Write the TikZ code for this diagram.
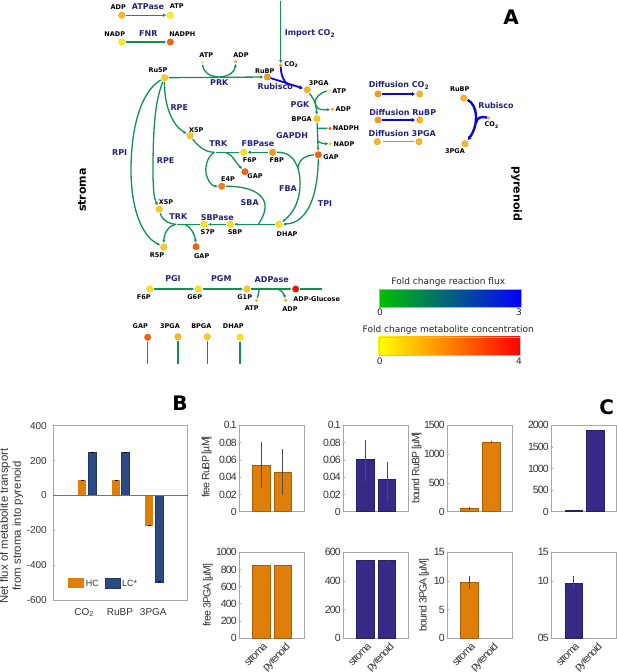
\documentclass[tikz,border=0pt]{standalone}
\usepackage{fontspec}
\usetikzlibrary{arrows.meta}
\setmainfont{DejaVu Sans}
\newfontfamily\plotfont[LetterSpace=-9]{Liberation Sans}
\newfontfamily\barfont{Liberation Sans}
\definecolor{fluxgreen}{HTML}{12904F}
\definecolor{fluxlight}{HTML}{55C060}
\definecolor{fluxblue}{HTML}{0808D8}
\definecolor{enzcol}{HTML}{23237C}
\definecolor{hccol}{HTML}{DF7F0A}
\definecolor{lcbar}{HTML}{2B4A82}
\definecolor{lccol}{HTML}{352A85}
\definecolor{axcol}{HTML}{A8A8A8}
\definecolor{tickcol}{HTML}{333333}
\definecolor{meta}{HTML}{FFEE20}
\definecolor{metb}{HTML}{FFDF20}
\definecolor{metc}{HTML}{FFC91F}
\definecolor{metd}{HTML}{FBB51F}
\definecolor{mete}{HTML}{F79A1A}
\definecolor{metf}{HTML}{F46010}
\definecolor{metg}{HTML}{F67E15}
\definecolor{meth}{HTML}{F01010}
\definecolor{metp}{HTML}{FFF080}
\tikzset{
  met/.style={circle, fill=#1, draw=#1!85!black, line width=.3pt, minimum size=6.5pt, inner sep=0pt},
  metsmall/.style={circle, fill=#1, draw=#1!85!black, line width=.2pt, minimum size=3pt, inner sep=0pt},
  metlbl/.style={font=\fontsize{6.5}{7}\selectfont\bfseries, text=black, inner sep=0pt},
  enzlbl/.style={font=\fontsize{8}{9}\selectfont\bfseries, text=enzcol, inner sep=0pt},
  biglbl/.style={font=\fontsize{11}{12}\selectfont\bfseries, inner sep=0pt},
  panellbl/.style={font=\fontsize{20}{22}\selectfont\bfseries, inner sep=0pt},
  cbarlbl/.style={font=\fontsize{9}{10}\selectfont, text=black!85, inner sep=0pt},
  flux/.style={draw=fluxgreen, line width=1.3pt, -{Latex[length=3.2pt,width=3.2pt]}, shorten >=.5pt, shorten <=1pt},
  fluxplain/.style={draw=fluxgreen, line width=1.3pt, shorten >=.5pt, shorten <=1pt},
  fluxb/.style={draw=fluxblue, line width=2pt, -{Latex[length=3.5pt,width=4.5pt]}, shorten >=1pt, shorten <=1pt},
  axisline/.style={draw=axcol, line width=.6pt},
  barhc/.style={fill=hccol, draw=hccol!75!black, line width=.4pt},
  barlc/.style={fill=lcbar, draw=lcbar!75!black, line width=.4pt},
  barlcc/.style={fill=lccol, draw=lccol!75!black, line width=.4pt},
  errbar/.style={draw=black!70, line width=.4pt},
  plotlbl/.style={font=\fontsize{10.5}{11}\selectfont\plotfont, text=tickcol, inner sep=0pt},
  barlbl/.style={font=\fontsize{10}{12}\selectfont\barfont, text=tickcol, inner sep=0pt},
}
\begin{document}
\begin{tikzpicture}[x=1pt, y=-1pt]
\useasboundingbox (0,0) rectangle (617,672);

\node[met=metd] (adpa) at (121.7,15.3) {};
\node[met=meta] (atpa) at (170.3,15.3) {};
\node[met=meta] (nadpa) at (121.7,42) {};
\node[met=metf] (nadpha) at (170.3,42) {};
\node[metsmall=mete] (co2a) at (280.7,65.3) {};
\node[met=metc] (ru5p) at (164.7,77.7) {};
\node[met=mete] (rubpa) at (267.3,77) {};
\node[met=metd] (pgaa) at (307.3,89.7) {};
\node[metsmall=metp] (atpb) at (202.3,62.3) {};
\node[metsmall=metd] (adpb) at (235.7,61.7) {};
\node[metsmall=metp] (atpc) at (329.3,90.7) {};
\node[metsmall=metd] (adpc) at (332.3,109.3) {};
\node[met=metc] (bpgaa) at (317,118.7) {};
\node[metsmall=metf] (nadphb) at (330,128.3) {};
\node[metsmall=metb] (nadpb) at (330.3,143.7) {};
\node[met=metf] (gapa) at (318.3,154.7) {};
\node[met=metc] (x5pa) at (190,135.7) {};
\node[met=metb] (f6pa) at (243.7,152.3) {};
\node[met=mete] (fbp) at (272.7,152.3) {};
\node[met=metf] (gapb) at (245,171.7) {};
\node[met=metg] (e4p) at (221.7,186.3) {};
\node[met=metc] (x5pb) at (159.3,209) {};
\node[met=metb] (s7p) at (204,224.3) {};
\node[met=metb] (sbp) at (230.3,224.3) {};
\node[met=metb] (dhapa) at (279,224.3) {};
\node[met=metc] (r5p) at (163.7,247) {};
\node[met=metf] (gapc) at (196,246.7) {};
\node[met=metb] (f6pb) at (149.7,289) {};
\node[met=metb] (g6p) at (198.3,289) {};
\node[met=metc] (g1p) at (247,289) {};
\node[met=meth] (adpglc) at (295.7,289) {};
\node[metsmall=metc] (atpd) at (256.7,300.3) {};
\node[metsmall=metd] (adpd) at (285.7,300.3) {};
\node[met=metf] (gapd) at (147.7,337.3) {};
\node[met=metd] (pgab) at (178,336.7) {};
\node[met=metc] (bpgab) at (207.3,336.7) {};
\node[met=metb] (dhapb) at (240,337.3) {};
\node[met=mete] (dco2a) at (378,94) {};
\node[met=metd] (dco2b) at (419.7,94) {};
\node[met=mete] (drubpa) at (378,120) {};
\node[met=metd] (drubpb) at (419.7,120) {};
\node[met=metd] (dpgaa) at (377.3,141.7) {};
\node[met=metd] (dpgab) at (419,141.7) {};
\node[met=metd] (rubpb) at (463.7,98) {};
\node[metsmall=metd] (co2b) at (488.7,118) {};
\node[met=metd] (pgac) at (465,143.7) {};

\coordinate (imptop) at (280.7,0);
\coordinate (prkj) at (219,76.8);
\coordinate (rubj) at (288,85);
\coordinate (pgkj) at (315.5,104);
\coordinate (gapdhja) at (318,129);
\coordinate (gapdhjb) at (318,140);
\coordinate (trkupj) at (215,152.3);
\coordinate (trkupk) at (225,152.3);
\coordinate (fbaj) at (298,168);
\coordinate (sbaj) at (258.3,224.3);
\coordinate (trkloj) at (176.7,224.3);
\coordinate (trklok) at (184,224.3);
\coordinate (adpaseja) at (258,289);
\coordinate (adpasejb) at (276,289);
\coordinate (glcend) at (322.7,289);
\coordinate (gapend) at (147.7,364);
\coordinate (pgaend) at (178,364);
\coordinate (bpgaend) at (207.3,364);
\coordinate (dhapend) at (240,364);
\coordinate (pyrj) at (476,123);

\draw[flux] (adpa) -- (atpa);
\draw[flux] (nadpa) -- (nadpha);
\draw[flux] (imptop) -- (co2a);
\draw[flux] (ru5p) -- (rubpa);
\draw[fluxplain] (atpb) .. controls (203,72) and (210,76.8) .. (prkj);
\draw[flux] (prkj) .. controls (228,76.8) and (235,72) .. (adpb);
\draw[draw=fluxblue, line width=1.8pt, -{Latex[length=3.5pt,width=4.5pt]}, shorten >=1pt] (rubpa) -- (pgaa);
\draw[draw=fluxblue, line width=1.8pt] (co2a) .. controls (281,75) and (283,80) .. (rubj);
\draw[flux] (ru5p) .. controls (140,92) and (131,130) .. (131,170) .. controls (131,205) and (140,235) .. (r5p);
\draw[flux] (ru5p) .. controls (155,100) and (153,130) .. (153,170) .. controls (153,190) and (154,198) .. (x5pb);
\draw[flux] (ru5p) .. controls (164,105) and (172,125) .. (x5pa);
\draw[fluxplain] (x5pa) .. controls (198,146) and (205,152.3) .. (trkupj);
\draw[fluxplain] (f6pa) -- (trkupj);
\draw[flux] (trkupj) .. controls (208,156) and (205,165) .. (206,173) .. controls (208,182) and (212,186) .. (e4p);
\draw[flux] (trkupk) .. controls (232,154) and (236,163) .. (gapb);
\draw[flux] (fbp) -- (f6pa);
\draw[fluxplain] (gapa) .. controls (308,155) and (299,158) .. (fbaj);
\draw[flux] (fbp) .. controls (285,152) and (295,155) .. (299,172) .. controls (303,195) and (295,212) .. (dhapa);
\draw[flux] (gapa) .. controls (318,190) and (310,223) .. (dhapa);
\draw[fluxplain] (e4p) .. controls (250,186) and (278,195) .. (sbaj);
\draw[flux] (dhapa) -- (sbp);
\draw[flux] (sbp) -- (s7p);
\draw[fluxplain] (s7p) -- (trkloj);
\draw[fluxplain] (x5pb) .. controls (161,218) and (168,224.3) .. (trkloj);
\draw[flux] (trkloj) .. controls (170,225) and (164,232) .. (r5p);
\draw[flux] (trklok) .. controls (190,226) and (195,234) .. (gapc);
\draw[flux] (pgaa) .. controls (311,96) and (316,100) .. (bpgaa);
\draw[fluxplain] (atpc) .. controls (321,92) and (314,98) .. (pgkj);
\draw[flux] (pgkj) .. controls (317,110) and (323,110) .. (adpc);
\draw[flux] (bpgaa) -- (gapa);
\draw[fluxplain] (nadphb) .. controls (323,128.3) and (318,128) .. (gapdhja);
\draw[flux] (gapdhjb) .. controls (319,143) and (324,143.7) .. (nadpb);
\draw[flux] (f6pb) -- (g6p);
\draw[flux] (g6p) -- (g1p);
\draw[flux] (g1p) -- (adpglc);
\draw[fluxplain] (adpglc) -- (glcend);
\draw[fluxplain] (atpd) .. controls (258,295) and (260,289.5) .. (adpaseja);
\draw[flux] (adpasejb) .. controls (281,289.5) and (284,294) .. (adpd);
\draw[fluxplain] (gapd) -- (gapend);
\draw[fluxplain] (pgab) -- (pgaend);
\draw[fluxplain] (bpgab) -- (bpgaend);
\draw[fluxplain] (dhapb) -- (dhapend);
\draw[fluxb] (dco2a) -- (dco2b);
\draw[fluxb] (drubpa) -- (drubpb);
\draw[draw=fluxlight, line width=1.3pt, shorten >=2pt, shorten <=2pt] (dpgaa) -- (dpgab);
\draw[fluxb, line width=2.4pt] (rubpb) .. controls (478,105) and (479,125) .. (pgac);
\draw[draw=fluxblue, line width=2.4pt] (co2b) .. controls (480,116) and (477,118) .. (pyrj);

\node[metlbl] (adpal) at (118.3,7) {ADP};
\node[metlbl] (atpal) at (176.7,6) {ATP};
\node[metlbl] (nadpal) at (114.7,33.7) {NADP};
\node[metlbl] (nadphal) at (182.3,34.3) {NADPH};
\node[metlbl] (atpbl) at (206.3,55.3) {ATP};
\node[metlbl] (adpbl) at (241,54.7) {ADP};
\node[metlbl] (co2al) at (291.3,64.7) {CO\textsubscript{2}};
\node[metlbl] (ru5pl) at (158,70) {Ru5P};
\node[metlbl] (rubpal) at (264.7,70.7) {RuBP};
\node[metlbl] (pgaal) at (318.7,83.3) {3PGA};
\node[metlbl] (atpcl) at (339.3,90.7) {ATP};
\node[metlbl] (adpcl) at (343.3,109.3) {ADP};
\node[metlbl] (bpgaal) at (301.7,119) {BPGA};
\node[metlbl] (x5pal) at (196.3,130) {X5P};
\node[metlbl] (nadphbl) at (346,128.3) {NADPH};
\node[metlbl] (nadpbl) at (344,143.7) {NADP};
\node[metlbl] (f6pal) at (249.7,159.7) {F6P};
\node[metlbl] (fbpl) at (276.7,159.7) {FBP};
\node[metlbl] (gapal) at (331,157) {GAP};
\node[metlbl] (gapbl) at (255,176) {GAP};
\node[metlbl] (e4pl) at (228,179.3) {E4P};
\node[metlbl] (x5pbl) at (166,202.3) {X5P};
\node[metlbl] (s7pl) at (207.7,232.3) {S7P};
\node[metlbl] (sbpl) at (235,232) {SBP};
\node[metlbl] (dhapal) at (287,233.7) {DHAP};
\node[metlbl] (r5pl) at (157,255) {R5P};
\node[metlbl] (gapcl) at (201.7,256.3) {GAP};
\node[metlbl] (f6pbl) at (143.7,297.3) {F6P};
\node[metlbl] (g6pl) at (194.7,296.7) {G6P};
\node[metlbl] (g1pl) at (244.7,297) {G1P};
\node[metlbl] (atpdl) at (251.7,308.3) {ATP};
\node[metlbl] (adpdl) at (290,309) {ADP};
\node[metlbl] (adpglcl) at (316.7,299) {ADP-Glucose};
\node[metlbl] (gapdl) at (140.3,326) {GAP};
\node[metlbl] (pgabl) at (170,325.7) {3PGA};
\node[metlbl] (bpgabl) at (201.3,325.7) {BPGA};
\node[metlbl] (dhapbl) at (233.3,325.7) {DHAP};
\node[metlbl] (rubpbl) at (459.7,89.3) {RuBP};
\node[metlbl] (co2bl) at (491.7,125) {CO\textsubscript{2}};
\node[metlbl] (pgacl) at (455,151.3) {3PGA};

\node[enzlbl] (atpase) at (148,6.3) {ATPase};
\node[enzlbl] (fnr) at (148.3,33.7) {FNR};
\node[enzlbl] (importco) at (310,33.7) {Import CO\textsubscript{2}};
\node[enzlbl] (prk) at (219.3,82.7) {PRK};
\node[enzlbl] (rubiscoa) at (275.3,86.7) {Rubisco};
\node[enzlbl] (pgk) at (300,105) {PGK};
\node[enzlbl] (rpea) at (179.3,108) {RPE};
\node[enzlbl] (gapdh) at (292,135.3) {GAPDH};
\node[enzlbl] (trka) at (218.3,144) {TRK};
\node[enzlbl] (fbpase) at (258,144) {FBPase};
\node[enzlbl] (rpi) at (119.7,153) {RPI};
\node[enzlbl] (rpeb) at (165.7,160.3) {RPE};
\node[enzlbl] (fba) at (288,188.3) {FBA};
\node[enzlbl] (sba) at (249.7,202.7) {SBA};
\node[enzlbl] (tpi) at (325,203.7) {TPI};
\node[enzlbl] (trkb) at (178.3,217) {TRK};
\node[enzlbl] (sbpase) at (217.3,217.3) {SBPase};
\node[enzlbl] (pgi) at (173,278.7) {PGI};
\node[enzlbl] (pgm) at (221.3,278.7) {PGM};
\node[enzlbl] (adpase) at (271.7,279.3) {ADPase};
\node[enzlbl] (diffco) at (399,85.7) {Diffusion CO\textsubscript{2}};
\node[enzlbl] (diffrubp) at (402.7,112.3) {Diffusion RuBP};
\node[enzlbl] (diffpga) at (402.3,134) {Diffusion 3PGA};
\node[enzlbl] (rubiscob) at (496,106) {Rubisco};

\node[biglbl, rotate=90] (stroma) at (82,190) {stroma};
\node[biglbl, rotate=-90] (pyrenoid) at (516.7,194) {pyrenoid};
\node[panellbl] (panela) at (511,17) {A};
\node[panellbl] (panelb) at (180,403) {B};
\node[panellbl] (panelc) at (606.7,407) {C};

\shade[left color=green!75!black, right color=blue, draw=blue!35, line width=.4pt] (379.3,289.3) rectangle (521,307.3);
\shade[left color=yellow, right color=red, draw=axcol!70, line width=.4pt] (378.7,336.7) rectangle (520.3,354.7);
\node[cbarlbl] (fluxtitle) at (448.3,282) {Fold change reaction flux};
\node[cbarlbl] (fluxmin) at (380,312.7) {0};
\node[cbarlbl] (fluxmax) at (519,312.7) {3};
\node[cbarlbl] (conctitle) at (448.3,330) {Fold change metabolite concentration};
\node[cbarlbl] (concmin) at (379.7,361.7) {0};
\node[cbarlbl] (concmax) at (519,361.7) {4};

\draw[axisline] (53.3,425.7) rectangle (187.7,600.3);
\foreach \lbl [count=\i from 0] in {400,200,0,-200,-400,-600} {
  \draw[axisline] (53.3,425.7+\i*34.92) -- ++(2,0);
  \node[barlbl, anchor=east] (bt\i) at (47,425.7+\i*34.92) {\lbl};
}
\draw[fill=hccol, draw=none] (78.3,480) rectangle (86,495.3);
\draw[barlc] (88,452) rectangle (96,495.3);
\draw[fill=hccol, draw=none] (112,480) rectangle (119.7,495.3);
\draw[barlc] (121.3,452) rectangle (129.3,495.3);
\draw[fill=hccol, draw=none] (145.3,495.3) rectangle (153,525.7);
\draw[barlc] (155,495.3) rectangle (163,581.7);
\draw[draw=black!55, line width=.5pt] (53.3,495.3) -- (187.7,495.3);
\foreach \xa/\ya in {82/480, 92/452, 116/480, 125.3/452, 149/525.7, 159/581.7} {
  \draw[draw=black, line width=.6pt] (\xa-1.5,\ya) -- (\xa+1.5,\ya);
}
\draw[fill=hccol, draw=none] (68.3,578.3) rectangle (84,587.7);
\draw[barlc] (104.7,578.3) rectangle (120,587.7);
\node[font=\fontsize{9}{10}\selectfont\barfont, text=tickcol, anchor=west, inner sep=0pt] (hclbl) at (85.7,583) {HC};
\node[font=\fontsize{9}{10}\selectfont\barfont, text=tickcol, anchor=west, inner sep=0pt] (lclbl) at (122,583) {LC*};
\node[barlbl] (bxa) at (84,612.5) {CO\textsubscript{2}};
\node[barlbl] (bxb) at (120,612) {RuBP};
\node[barlbl] (bxc) at (153.3,612) {3PGA};
\node[barlbl, rotate=90, font=\fontsize{11.4}{12}\selectfont\barfont] (bya) at (5,526) {Net flux of metabolite transport};
\node[barlbl, rotate=90, font=\fontsize{11.4}{12}\selectfont\barfont] (byb) at (18,526) {from stroma into pyrenoid};

\foreach \nm/\xa/\ya/\st/\lst in {a/239.3/425.3/17.28/{0.1,0.08,0.06,0.04,0.02,0}, b/343.3/425.3/17.28/{0.1,0.08,0.06,0.04,0.02,0}, c/447.3/425.3/28.8/{1500,1000,500,0}, d/551.3/425.3/21.6/{2000,1500,1000,500,0}, e/239.3/552.3/17.14/{1000,800,600,400,200,0}, f/343.3/552.3/28.57/{600,400,200,0}, g/447.3/552.3/28.57/{15,10,5,0}, h/551.3/552.3/28.57/{15,10}} {
  \draw[axisline] (\xa,\ya) rectangle ++(65,86);
  \foreach \lbl [count=\i from 0] in \lst {
    \draw[axisline] (\xa,\ya+\i*\st) -- ++(1.5,0);
    \node[plotlbl, anchor=east] (t\nm\i) at (\xa-2.5,\ya+\i*\st) {\lbl};
  }
}
\node[plotlbl, anchor=east] (thz) at (548.8,637.5) {05};

\foreach \xa/\xb/\ya/\yb/\sty in {252.3/269.7/465/511.3/barhc, 274/291/471.7/511.3/barhc, 356.3/373.7/458.7/511.3/barlcc, 378/395.3/479.3/511.3/barlcc, 460.3/477.7/508.3/511.3/barhc, 482.3/499.7/441.7/511.3/barhc, 564.7/582/510.3/511.3/barlcc, 586.3/603.7/430/511.3/barlcc, 252.3/269.7/565.3/638/barhc, 274/291/565.3/638/barhc, 356.3/373.7/560/638/barlcc, 378/395.3/560/638/barlcc, 460.3/477.7/582.3/638/barhc, 564.7/582/582.7/638/barlcc} {
  \draw[\sty] (\xa,\ya) rectangle (\xb,\yb);
}
\foreach \xa/\ya/\yb in {261/442/487.7, 282.5/449.3/494.7, 365/440.3/481.7, 386.7/461.7/501.7, 469/507/510, 491/441/442.5, 595/429.5/431, 261/565/566, 282.5/565/566, 365/559.7/560.5, 386.7/559.7/560.5, 469/576/589, 573.3/576/589} {
  \draw[errbar] (\xa,\ya) -- (\xa,\yb);
}

\node[plotlbl, rotate=90] (ya) at (206.7,467) {free RuBP [µM]};
\node[plotlbl, rotate=90] (yb) at (208,595) {free 3PGA [µM]};
\node[plotlbl, rotate=90] (yc) at (416.7,468) {bound RuBP [µM]};
\node[plotlbl, rotate=90] (yd) at (424,595) {bound 3PGA [µM]};

\foreach \nm/\xa/\xb in {e/263/285, f/367/389, g/471/493, h/575/597} {
  \node[plotlbl, rotate=45, anchor=north east] (s\nm) at (\xa,642) {stroma};
  \node[plotlbl, rotate=45, anchor=north east] (p\nm) at (\xb,642) {pyrenoid};
}
\end{tikzpicture}
\end{document}
